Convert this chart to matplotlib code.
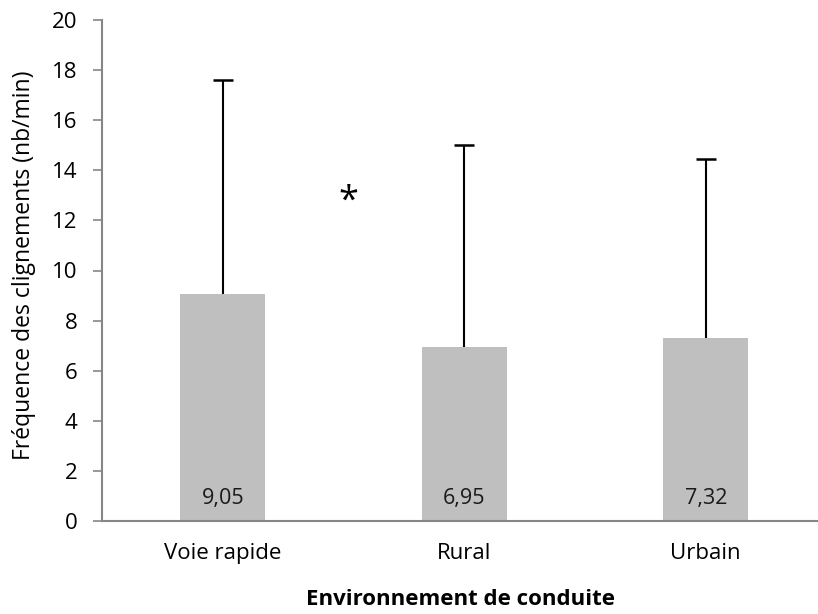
import matplotlib
matplotlib.use("Agg")
import matplotlib.pyplot as plt
import numpy as np

categories = ["Voie rapide", "Rural", "Urbain"]
means = [9.05, 6.95, 7.32]
err_top = [17.6, 15.0, 14.47]
value_labels = ["9,05", "6,95", "7,32"]
yticks = list(range(0, 21, 2))

plt.rcParams['font.family'] = ['Open Sans', 'DejaVu Sans']
FS = 16

fig = plt.figure(figsize=(8.18, 6.14), dpi=100)
ax = fig.add_axes([102/818, 93/614, 1 - 102/818, 501/614])

x = np.arange(len(categories))
ax.bar(x, means, width=0.35, color="#BFBFBF", zorder=2)
upper = np.array(err_top) - np.array(means)
ax.errorbar(x, means, yerr=[np.zeros(3), upper], fmt='none', ecolor='black',
            elinewidth=1.5, capsize=0, zorder=3)
ax.plot(x, err_top, linestyle='none', marker='_', markersize=15,
        markeredgewidth=1.8, color='black', zorder=3)

for xi, lab in zip(x, value_labels):
    ax.text(xi, 0.9, lab, ha='center', va='center', fontsize=FS - 0.5, color='#1a1a1a')

ax.text(0.52, 12.75, "*", ha='center', va='center', fontsize=26, color='black')

ax.set_xlim(-0.5, -0.5 + 716/241.5)
ax.set_ylim(0, 20)
ax.set_yticks(yticks)
ax.set_xticks(x)
ax.set_xticklabels(categories, fontsize=FS)
ax.tick_params(axis='y', labelsize=FS, length=6.5, color='#868686', width=1.2, pad=11)
ax.tick_params(axis='x', length=0, pad=16)
for s in ['top', 'right']:
    ax.spines[s].set_visible(False)
for s in ['left', 'bottom']:
    ax.spines[s].set_color('#868686')
    ax.spines[s].set_linewidth(1.5)

ax.set_ylabel("Fréquence des clignements (nb/min)", fontsize=16.5)
ax.yaxis.set_label_coords(-66/716, 0.51)
ax.set_xlabel("Environnement de conduite", fontsize=FS, fontweight='bold')
ax.xaxis.set_label_coords(358/716, -68/501)

fig.savefig("out.png", dpi=100)
